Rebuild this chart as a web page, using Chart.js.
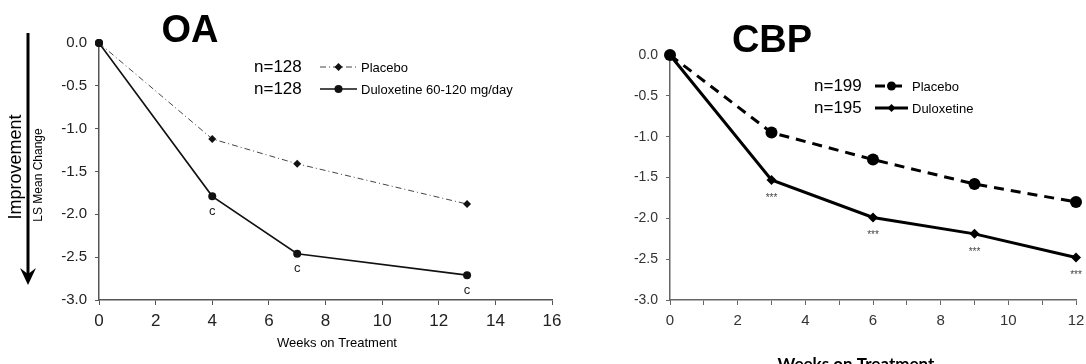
<!DOCTYPE html>
<html>
<head>
<meta charset="utf-8">
<script src="https://cdn.jsdelivr.net/npm/chart.js@4.4.1/dist/chart.umd.min.js"></script>
<style>
  html, body { margin: 0; padding: 0; background: #fff; }
  #wrap { position: relative; width: 1086px; height: 364px; overflow: hidden; }
  .box { position: absolute; top: 0; height: 364px; }
  #boxOA { left: 0; width: 580px; }
  #boxCBP { left: 580px; width: 506px; }
</style>
</head>
<body>
<div id="wrap">
  <div class="box" id="boxOA"><canvas id="chartOA"></canvas></div>
  <div class="box" id="boxCBP"><canvas id="chartCBP"></canvas></div>
</div>
<script>
// OA panel
const oaWeeks = [0, 4, 7, 13];
const oaPlacebo = [0, -1.12, -1.41, -1.88];
const oaDuloxetine = [0, -1.79, -2.46, -2.71];
const oaMarks = ['', 'c', 'c', 'c'];
const oaN = ['n=128', 'n=128'];
const oaLabels = ['Placebo', 'Duloxetine 60-120 mg/day'];

// CBP panel
const cbpWeeks = [0, 3, 6, 9, 12];
const cbpPlacebo = [0, -0.95, -1.28, -1.58, -1.80];
const cbpDuloxetine = [0, -1.53, -1.99, -2.19, -2.48];
const cbpMarks = ['', '***', '***', '***', '***'];
const cbpN = ['n=199', 'n=195'];
const cbpLabels = ['Placebo', 'Duloxetine'];

const xTitle = 'Weeks on Treatment';

const toPoints = (xs, ys) => xs.map((x, i) => ({ x: x, y: ys[i] }));

function drawMarker(ctx, style, x, y, r, color) {
    ctx.save();
    ctx.fillStyle = color;
    ctx.beginPath();
    if (style === 'rectRot') {
        ctx.moveTo(x, y - r);
        ctx.lineTo(x + r, y);
        ctx.lineTo(x, y + r);
        ctx.lineTo(x - r, y);
        ctx.closePath();
    } else {
        ctx.arc(x, y, r, 0, Math.PI * 2);
    }
    ctx.fill();
    ctx.restore();
}

// Titles, legend, significance marks and y-axis caption
const extrasPlugin = {
    id: 'extras',
    afterDatasetsDraw(chart, args, opts) {
        const ctx = chart.ctx;
        const xs = chart.scales.x;
        const ys = chart.scales.y;
        ctx.save();

        // big panel title
        ctx.fillStyle = '#000';
        ctx.font = 'bold 38px "Liberation Sans", Arial, sans-serif';
        ctx.textAlign = 'center';
        ctx.textBaseline = 'middle';
        ctx.fillText(opts.title, opts.titleX, opts.titleY);

        // marks under the duloxetine points
        const ds = chart.data.datasets[1];
        ctx.font = opts.markFont;
        ctx.fillStyle = opts.markColor;
        ctx.textBaseline = 'middle';
        opts.marks.forEach((m, i) => {
            if (!m) return;
            const p = ds.data[i];
            ctx.fillText(m, xs.getPixelForValue(p.x), ys.getPixelForValue(p.y) + opts.markOffset);
        });

        // legend
        opts.legend.rows.forEach((row, i) => {
            const d = chart.data.datasets[i];
            const y = opts.legend.y + i * opts.legend.gap;
            ctx.fillStyle = '#000';
            ctx.textAlign = 'left';
            ctx.font = '17px "Liberation Sans", Arial, sans-serif';
            ctx.fillText(row.n, opts.legend.x, y);
            ctx.strokeStyle = d.borderColor;
            ctx.lineWidth = d.borderWidth;
            ctx.setLineDash(d.borderDash || []);
            ctx.beginPath();
            ctx.moveTo(opts.legend.lx1, y);
            ctx.lineTo(opts.legend.lx2, y);
            ctx.stroke();
            ctx.setLineDash([]);
            drawMarker(ctx, opts.legend.styles[i], (opts.legend.lx1 + opts.legend.lx2) / 2, y, opts.legend.r[i], d.pointBackgroundColor);
            ctx.font = opts.legend.font;
            ctx.fillStyle = '#000';
            ctx.fillText(row.label, opts.legend.lx2 + 4, y + 1);
        });

        // x axis title
        ctx.font = opts.xTitleFont;
        ctx.fillStyle = '#000';
        ctx.textAlign = 'center';
        ctx.fillText(xTitle, opts.xTitleX, opts.xTitleY);

        // y caption with arrow (OA only)
        if (opts.yCaption) {
            ctx.save();
            ctx.translate(16, 167);
            ctx.rotate(-Math.PI / 2);
            ctx.font = '18px "Liberation Sans", Arial, sans-serif';
            ctx.fillText('Improvement', 0, 0);
            ctx.restore();
            ctx.save();
            ctx.translate(39, 175);
            ctx.rotate(-Math.PI / 2);
            ctx.font = '12px "Liberation Sans", Arial, sans-serif';
            ctx.fillText('LS Mean Change', 0, 0);
            ctx.restore();
            ctx.strokeStyle = '#000';
            ctx.lineWidth = 3;
            ctx.beginPath();
            ctx.moveTo(28, 33);
            ctx.lineTo(28, 278);
            ctx.stroke();
            ctx.fillStyle = '#000';
            ctx.beginPath();
            ctx.moveTo(20, 268);
            ctx.lineTo(28, 285);
            ctx.lineTo(36, 268);
            ctx.lineTo(28, 274);
            ctx.closePath();
            ctx.fill();
        }
        ctx.restore();
    }
};

function makeChart(id, cfg) {
    return new Chart(document.getElementById(id), {
        type: 'scatter',
        data: {
            datasets: [
                Object.assign({ label: cfg.labels[0], data: cfg.placebo, showLine: true, clip: false }, cfg.placeboStyle),
                Object.assign({ label: cfg.labels[1], data: cfg.dulox, showLine: true, clip: false }, cfg.duloxStyle)
            ]
        },
        options: {
            responsive: true,
            maintainAspectRatio: false,
            animation: false,
            layout: { padding: cfg.padding },
            plugins: {
                legend: { display: false },
                tooltip: { enabled: false },
                extras: cfg.extras
            },
            scales: {
                x: {
                    type: 'linear',
                    min: 0,
                    max: cfg.xMax,
                    afterFit: s => { s.height = cfg.xHeight; s.paddingRight = 0; },
                    ticks: {
                        stepSize: cfg.xStep,
                        color: cfg.tickColor,
                        padding: cfg.xPad,
                        font: { family: '"Liberation Sans", Arial, sans-serif', size: cfg.xFont },
                        callback: v => (v % 2 === 0 ? String(v) : '')
                    },
                    grid: { drawOnChartArea: false, drawTicks: true, tickLength: 5, color: cfg.axisColor },
                    border: { display: true, color: cfg.axisColor, width: 1.5 }
                },
                y: {
                    min: -3,
                    max: 0,
                    afterFit: s => { s.width = cfg.yWidth; },
                    ticks: {
                        stepSize: 0.5,
                        color: cfg.tickColor,
                        padding: cfg.yPad,
                        font: { family: '"Liberation Sans", Arial, sans-serif', size: cfg.yFont },
                        callback: v => v.toFixed(1)
                    },
                    grid: { drawOnChartArea: false, drawTicks: true, tickLength: 4, color: cfg.axisColor },
                    border: { display: true, color: cfg.axisColor, width: 1.5 }
                }
            }
        },
        plugins: [extrasPlugin]
    });
}

makeChart('chartOA', {
    labels: oaLabels,
    placebo: toPoints(oaWeeks, oaPlacebo),
    dulox: toPoints(oaWeeks, oaDuloxetine),
    placeboStyle: {
        borderColor: '#444', borderWidth: 1, borderDash: [6, 3, 1, 3],
        pointStyle: ['circle', 'rectRot', 'rectRot', 'rectRot'], pointRadius: [4, 4, 4, 4],
        pointBackgroundColor: '#111', pointBorderWidth: 0
    },
    duloxStyle: {
        borderColor: '#111', borderWidth: 1.6,
        pointStyle: 'circle', pointRadius: 4, pointBackgroundColor: '#111', pointBorderWidth: 0
    },
    padding: { left: 0, right: 28, top: 43, bottom: 0 },
    xMax: 16, xStep: 2, xHeight: 64, yWidth: 99, yPad: 8,
    xFont: 17, yFont: 15, xPad: 6,
    tickColor: '#222', axisColor: '#555',
    extras: {
        title: 'OA', titleX: 190, titleY: 32,
        marks: oaMarks, markFont: '13px "Liberation Sans", Arial, sans-serif', markColor: '#222', markOffset: 15,
        legend: {
            rows: [{ n: oaN[0], label: oaLabels[0] }, { n: oaN[1], label: oaLabels[1] }],
            x: 254, y: 67, gap: 22, lx1: 320, lx2: 357, r: [4, 4], styles: ['rectRot', 'circle'],
            font: '13px "Liberation Sans", Arial, sans-serif'
        },
        xTitleFont: '13px "Liberation Sans", Arial, sans-serif', xTitleX: 337, xTitleY: 343,
        yCaption: true
    }
});

makeChart('chartCBP', {
    labels: cbpLabels,
    placebo: toPoints(cbpWeeks, cbpPlacebo),
    dulox: toPoints(cbpWeeks, cbpDuloxetine),
    placeboStyle: {
        borderColor: '#000', borderWidth: 3, borderDash: [10, 7],
        pointStyle: 'circle', pointRadius: 6, pointBackgroundColor: '#000', pointBorderWidth: 0
    },
    duloxStyle: {
        borderColor: '#000', borderWidth: 3,
        pointStyle: 'rectRot', pointRadius: 5, pointBackgroundColor: '#000', pointBorderWidth: 0
    },
    padding: { left: 0, right: 10, top: 55, bottom: 0 },
    xMax: 12, xStep: 1, xHeight: 64, yWidth: 90, yPad: 8,
    xFont: 15, yFont: 14, xPad: 7,
    tickColor: '#333', axisColor: '#666',
    extras: {
        title: 'CBP', titleX: 192, titleY: 42,
        marks: cbpMarks, markFont: '10px "Liberation Sans", Arial, sans-serif', markColor: '#444', markOffset: 18,
        legend: {
            rows: [{ n: cbpN[0], label: cbpLabels[0] }, { n: cbpN[1], label: cbpLabels[1] }],
            x: 234, y: 86, gap: 22, lx1: 295, lx2: 328, r: [4.5, 4], styles: ['circle', 'rectRot'],
            font: '13px "Liberation Sans Narrow", "Liberation Sans", Arial, sans-serif'
        },
        xTitleFont: 'bold 17px Lato, "Open Sans", sans-serif', xTitleX: 276, xTitleY: 365,
        yCaption: false
    }
});
</script>
</body>
</html>
